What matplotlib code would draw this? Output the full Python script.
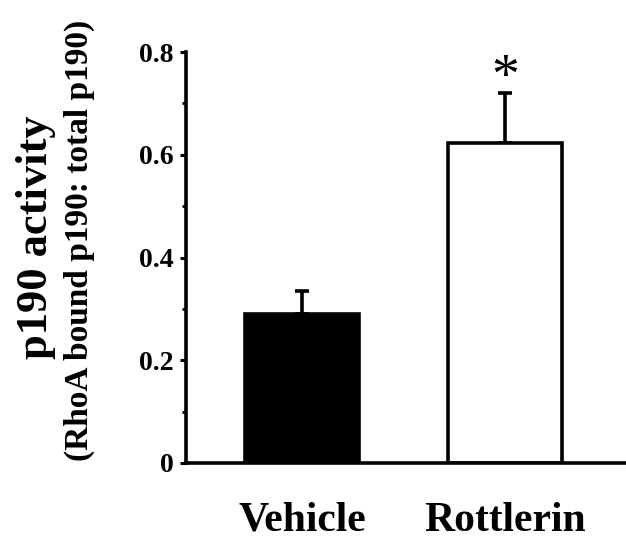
import matplotlib
matplotlib.use("Agg")
import matplotlib.pyplot as plt
from matplotlib.ticker import MultipleLocator

categories = ["Vehicle", "Rottlerin"]
values = [0.290, 0.623]
errors = [0.045, 0.097]
fill_colors = ["black", "white"]
y_ticks = [0, 0.2, 0.4, 0.6, 0.8]
y_tick_labels = ["0", "0.2", "0.4", "0.6", "0.8"]

plt.rcParams['font.family'] = ['Liberation Serif', 'DejaVu Serif']
plt.rcParams['font.weight'] = 'bold'

fig = plt.figure(figsize=(6.26, 5.40), dpi=100)
ax = fig.add_axes([0.297, 0.1426, 0.703, 0.761])

x = list(range(len(categories)))
ax.bar(x, values, width=0.565, color=fill_colors, edgecolor="black", linewidth=2.6, zorder=2)
ax.errorbar(x, values, yerr=[[0]*len(values), errors], fmt="none", ecolor="black",
            elinewidth=2.6, capsize=5, capthick=2.6, zorder=1)

ax.annotate("*", xy=(x[1], values[1] + errors[1]), xytext=(0, 10), textcoords="offset points",
            ha="center", va="center", fontsize=40, fontweight="normal")

ax.set_xlim(-0.571, 1.596)
ax.set_ylim(0, 0.8)
ax.set_yticks(y_ticks)
ax.set_yticklabels(y_tick_labels)
ax.yaxis.set_minor_locator(MultipleLocator(0.1))
ax.set_xticks(x)
ax.set_xticklabels(categories)

for s in ["top", "right"]:
    ax.spines[s].set_visible(False)
for s in ["left", "bottom"]:
    ax.spines[s].set_linewidth(2.6)

ax.tick_params(axis="y", which="major", direction="out", length=4, width=2.2, labelsize=20, pad=5)
ax.tick_params(axis="y", which="minor", direction="out", length=3, width=2.0)
ax.tick_params(axis="x", length=0, labelsize=30, pad=28)
for lbl in ax.get_xticklabels() + ax.get_yticklabels():
    lbl.set_fontweight("bold")

fig.text(0.058, 0.561, "p190 activity", rotation=90, ha="center", va="center",
         fontsize=32, fontweight="bold")
fig.text(0.127, 0.554, "(RhoA bound p190: total p190)", rotation=90, ha="center", va="center",
         fontsize=24, fontweight="bold")

fig.savefig("out.png", dpi=100)
